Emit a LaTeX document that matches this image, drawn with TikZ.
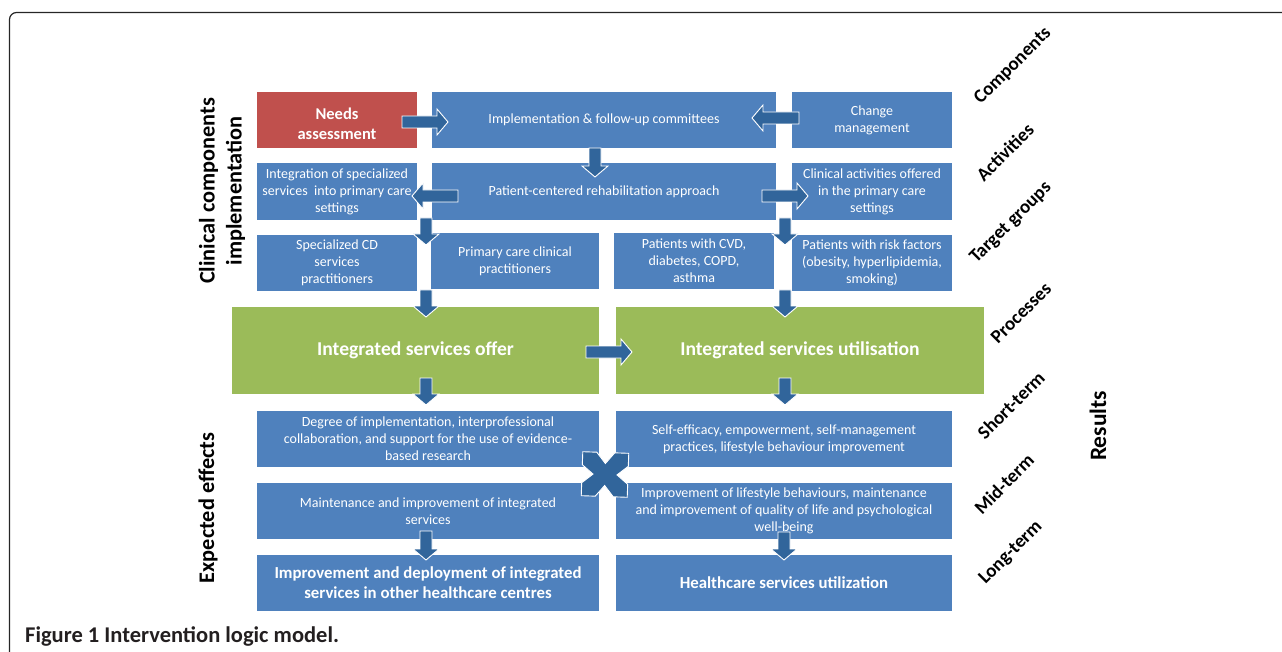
\documentclass[tikz,border=0pt]{standalone}
\usepackage{fontspec}
\setmainfont{Carlito}
\usetikzlibrary{calc}
\definecolor{bxblue}{HTML}{4F81BD}
\definecolor{bxred}{HTML}{C0504D}
\definecolor{bxgreen}{HTML}{9BBB59}
\definecolor{arblue}{HTML}{31659B}
\definecolor{capgray}{HTML}{231F20}
\newcommand{\abox}[7]{%
  \pgfmathsetmacro\bw{#4-#2}\pgfmathsetmacro\bh{#5-#3}%
  \node[#1, minimum width=\bw pt, minimum height=\bh pt] (#6) at ({(#2+#4)/2},{(#3+#5)/2}) {#7};}
\tikzset{
  pics/barr/.style={code={%
    \filldraw[fill=arblue, draw=white, line width=0.9pt]
      (0,-6) -- ({#1-11},-6) -- ({#1-11},-13) -- (#1,0) -- ({#1-11},13) -- ({#1-11},6) -- (0,6) -- cycle;}},
  basebox/.style={inner sep=0pt, align=center, text=white},
  bluebox/.style={basebox, fill=bxblue, font=\fontsize{14}{17}\selectfont},
  redbox/.style={basebox, fill=bxred, font=\bfseries\fontsize{16.5}{20}\selectfont},
  greenbox/.style={basebox, fill=bxgreen, font=\bfseries\fontsize{19.6}{23}\selectfont},
  boldbox/.style={basebox, fill=bxblue, font=\bfseries\fontsize{16.8}{20}\selectfont},
  sidelabel/.style={rotate=90, align=center, font=\bfseries\fontsize{22.3}{27}\selectfont},
  diaglabel/.style={rotate=45, font=\bfseries\fontsize{19}{22}\selectfont},
}
\begin{document}
\begin{tikzpicture}[x=1pt,y=-1pt]
\useasboundingbox (0,0) rectangle (1282,652);
\begin{scope}
\clip (0,0) rectangle (1282,652);
\draw[line width=1.2pt, draw=black!85, rounded corners=7pt] (9.5,12.5) rectangle (1300,670);
\end{scope}
% row 1
\abox{redbox}{257}{92}{417}{148}{needs}{\raisebox{-6pt}[\height][\depth]{\begin{tabular}{@{}c@{}}Needs\\assessment\end{tabular}}}
\abox{bluebox}{432}{92}{776}{148}{impl}{Implementation \& follow-up committees}
\abox{bluebox}{792}{92}{952}{148}{change}{Change\\management}
% row 2
\abox{bluebox}{257}{163}{417}{220}{integ}{Integration of specialized\\services\ \ into primary care\\settings}
\abox{bluebox}{432}{163}{776}{220}{patient}{Patient-centered rehabilitation approach}
\abox{bluebox}{792}{163}{952}{220}{clinical}{Clinical activities offered\\in the primary care\\settings}
% row 3
\abox{bluebox}{257}{235}{417}{291}{spec}{Specialized CD\\services\\practitioners}
\abox{bluebox}{431}{233}{599}{289}{primary}{Primary care clinical\\practitioners}
\abox{bluebox}{614}{233}{774}{289}{cvd}{Patients with CVD,\\diabetes, COPD,\\asthma}
\abox{bluebox}{792}{235}{952}{291}{risk}{Patients with risk factors\\(obesity, hyperlipidemia,\\smoking)}
% processes
\abox{greenbox}{232}{307}{599}{394}{offer}{Integrated services offer}
\abox{greenbox}{616}{307}{984}{394}{util}{Integrated services utilisation}
% effects
\abox{bluebox}{257}{411}{599}{467}{degree}{Degree of implementation, interprofessional\\collaboration, and support for the use of evidence-\\based research}
\abox{bluebox}{616}{411}{952}{467}{selfeff}{Self-efficacy, empowerment, self-management\\practices, lifestyle behaviour improvement}
\abox{bluebox}{257}{483}{599}{539}{maint}{Maintenance and improvement of integrated\\services}
\abox{bluebox}{616}{483}{952}{539}{life}{Improvement of lifestyle behaviours, maintenance\\and improvement of quality of life and psychological\\well-being}
\abox{boldbox}{257}{555}{599}{611}{deploy}{Improvement and deployment of integrated\\services in other healthcare centres}
\abox{boldbox}{616}{555}{952}{611}{health}{Healthcare services utilization}
% block arrows
\pic at (402,122) {barr=46};
\pic[rotate=180] at (799,118) {barr=47};
\pic[rotate=-90] at (595,148) {barr=29};
\pic[rotate=180] at (458,196) {barr=46};
\pic at (762,196) {barr=46};
\pic[rotate=-90] at (426,218) {barr=27};
\pic[rotate=-90] at (785,218) {barr=27};
\pic[rotate=-90] at (426,290) {barr=27};
\pic[rotate=-90] at (785,290) {barr=27};
\pic at (586,352) {barr=46};
\pic[rotate=-90] at (426,378) {barr=27};
\pic[rotate=-90] at (785,378) {barr=27};
\pic[rotate=-90] at (426,531) {barr=29};
\pic[rotate=-90] at (784,532) {barr=28};
% cross
\filldraw[fill=arblue, draw=white, line width=0.9pt, shift={(605,474.5)}, rotate=-2]
  (-23,-22) -- (-9,-22) -- (0,-11) -- (9,-22) -- (23,-22) -- (23,-9) -- (12,0) -- (23,9)
  -- (23,22) -- (9,22) -- (0,11) -- (-9,22) -- (-23,22) -- (-23,9) -- (-12,0) -- (-23,-9) -- cycle;
% side labels
\node[sidelabel] (clin) at (222,191) {Clinical components\\implementation};
\node[sidelabel] (expect) at (208,508) {Expected effects};
\node[sidelabel, font=\bfseries\fontsize{23.5}{27}\selectfont] (results) at (1098,426) {Results};
\node[diaglabel] (lcomp) at (1013,66) {Components};
\node[diaglabel] (lact) at (1005,152) {Activities};
\node[diaglabel] (ltarg) at (1011,223) {Target groups};
\node[diaglabel] (lproc) at (1021,313) {Processes};
\node[diaglabel] (lshort) at (1011,405) {Short-term};
\node[diaglabel] (lmid) at (1004,484) {Mid-term};
\node[diaglabel] (llong) at (1011,553) {Long-term};
% caption
\node[anchor=base west, inner sep=0pt, text=capgray, font=\bfseries\fontsize{22.5}{24}\selectfont] (caption) at (25,642) {Figure 1 Intervention logic model.};
\end{tikzpicture}
\end{document}
